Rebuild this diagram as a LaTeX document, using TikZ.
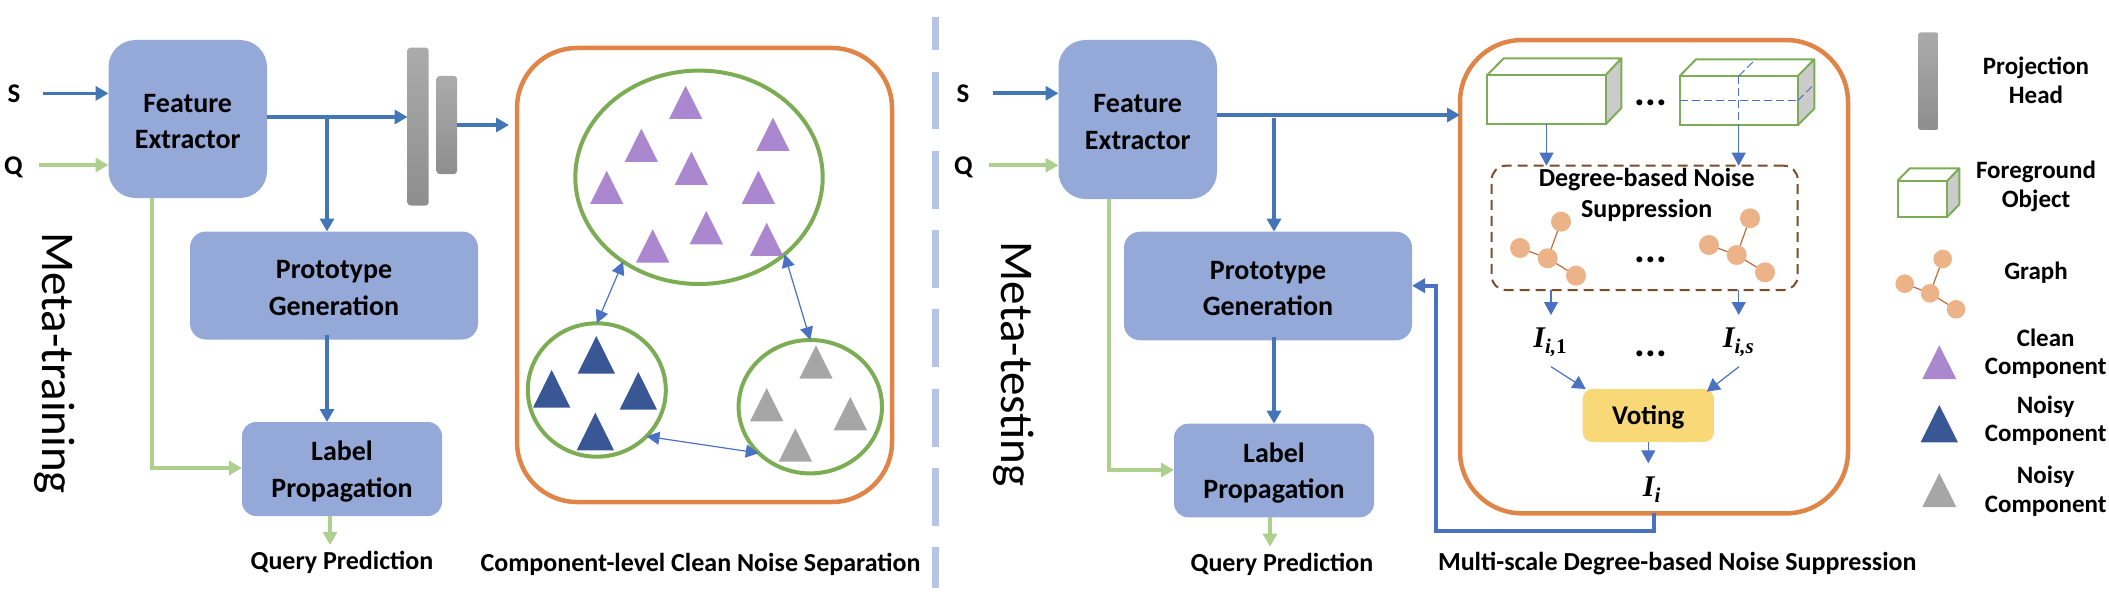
\documentclass[tikz,border=0pt]{standalone}
\usepackage{fontspec}
\setmainfont{Carlito}
\newfontfamily\serifbi{Liberation Serif}
\usetikzlibrary{arrows.meta,shapes.geometric}
\definecolor{blk}{HTML}{95A9D8}
\definecolor{orng}{HTML}{E08547}
\definecolor{grn}{HTML}{7CAD55}
\definecolor{lgrn}{HTML}{AED08E}
\definecolor{bluea}{HTML}{4276B6}
\definecolor{blueb}{HTML}{4B72C2}
\definecolor{purp}{HTML}{AA87CE}
\definecolor{navy}{HTML}{3A5795}
\definecolor{gry}{HTML}{A6A6A6}
\definecolor{peach}{HTML}{EBB387}
\definecolor{rust}{HTML}{C0693A}
\definecolor{brwn}{HTML}{7F4A28}
\definecolor{vote}{HTML}{F8D877}
\definecolor{divid}{HTML}{B5C5E5}
\definecolor{side}{HTML}{CBCBCB}
\definecolor{headt}{HTML}{ABABAB}
\definecolor{headb}{HTML}{8E8E8E}
\newcommand\Tri[5]{\fill[#1] (#2,#3) -- ++(#4,#5) -- ++(-2*#4,0) -- cycle;}
\newcommand\IIdx[1]{{\serifbi\bfseries\itshape\fontsize{30}{30}\selectfont I\raisebox{-6pt}{\fontsize{21}{21}\selectfont #1}}}
\tikzset{
  x=1pt,y=-1pt,
  every node/.style={inner sep=0pt,outer sep=0pt},
  blockbox/.style={fill=blk},
  blocktext/.style={align=center,font=\fontsize{28}{36.5}\selectfont\bfseries},
  framebox/.style={draw=orng,line width=4.5pt,rounded corners=60pt},
  blob/.style={ellipse,draw=grn,line width=4pt},
  flowblue/.style={draw=bluea,line width=3.6pt,-{Triangle[length=13pt,width=14pt]}},
  flowgreen/.style={draw=lgrn,line width=4pt,-{Triangle[length=13pt,width=14pt]}},
  flowret/.style={draw=blueb,line width=3.6pt,-{Triangle[length=13pt,width=14pt]}},
  thinflow/.style={draw=blueb,line width=1.2pt,-{Triangle[length=13pt,width=14pt]}},
  twoway/.style={draw=blueb,line width=1.2pt,{Triangle[length=13pt,width=13pt]}-{Triangle[length=13pt,width=13pt]}},
  head/.style={rounded corners=3pt,top color=headt,bottom color=headb},
  txt/.style={font=\fontsize{26}{31}\selectfont\bfseries,align=center},
  ltxt/.style={font=\fontsize{25}{28.7}\selectfont\bfseries,align=center},
  sqtxt/.style={font=\fontsize{27}{27}\selectfont\bfseries},
  metatxt/.style={font=\fontsize{47}{47}\selectfont,rotate=-90,anchor=base west},
  dotstxt/.style={font=\fontsize{40}{40}\selectfont\bfseries,anchor=base},
  gnode/.style={circle,fill=peach,minimum size=20pt},
  gedge/.style={draw=rust,line width=1.2pt},
  cubeline/.style={draw=grn,line width=2pt,line join=round},
  cubedash/.style={draw=blueb,line width=1pt,dash pattern=on 8pt off 4pt},
}
\begin{document}
\begin{tikzpicture}
\useasboundingbox (0,0) rectangle (2109,615);
% ---- divider
\draw[divid,line width=7.5pt] (935.6,17) -- (935.6,50);
\foreach \yy in {72,151,230,309,389,468}{\draw[divid,line width=7.5pt] (935.6,\yy) -- (935.6,\yy+57.5);}
\draw[divid,line width=7.5pt] (935.6,547) -- (935.6,588);
% ---- left part
\node[blockbox,minimum width=158.5pt,minimum height=158pt,rounded corners=27pt] (fe) at (187.75,119) {};
\node[blocktext] (fet) at ([yshift=-2.5pt]fe.center) {Feature\\Extractor};
\node[blockbox,minimum width=288pt,minimum height=108pt,rounded corners=16pt] (pg) at (334,285.5) {};
\node[blocktext] (pgt) at ([yshift=-2.5pt]pg.center) {Prototype\\Generation};
\node[blockbox,minimum width=200pt,minimum height=94pt,rounded corners=14pt] (lp) at (342,469) {};
\node[blocktext] (lpt) at ([yshift=-2.5pt]lp.center) {Label\\Propagation};
\node[sqtxt] (sl) at (14,93.3) {S};
\node[sqtxt] (ql) at (13.5,167) {Q};
\path[head] (407.6,47.6) rectangle (428.6,205.5);
\path[head] (436.6,76) rectangle (457,174);
\coordinate (ph) at (407.6,117);
\coordinate (ph2) at (457,125);
\node[framebox,minimum width=375pt,minimum height=454pt] (ol) at (704.5,275) {};
\coordinate (sa) at (43,93.4);
\coordinate (qa) at (39,165);
\draw[flowblue] (sa) -- (sa -| fe.west);
\draw[flowgreen] (qa) -- (qa -| fe.west);
\draw[flowblue] (ph -| fe.east) -- (ph);
\coordinate (br) at (327,117);
\draw[flowblue] (br) -- (br |- pg.north);
\draw[flowblue] (ph2) -- (509,125);
\coordinate (pgb) at (327,335);
\draw[flowblue] (pgb) -- (pgb |- lp.north);
\coordinate (ga) at (152,468);
\draw[flowgreen] (ga |- fe.south) -- (ga) -- (ga -| lp.west);
\coordinate (qp) at (330,545);
\draw[flowgreen] (qp |- lp.south) -- (qp);
\node[txt] (qpt) at (342,562) {Query Prediction};
\node[txt] (clt) at (700.5,564) {Component-level Clean Noise Separation};
\node[metatxt] (mt) at (42.4,232) {Meta-training};
% blobs
\node[blob,minimum width=247.4pt,minimum height=213.4pt] (bc) at (699,177.3) {};
\node[blob,minimum width=138pt,minimum height=133.4pt] (bn) at (596.8,390) {};
\node[blob,minimum width=143.4pt,minimum height=133.4pt] (bg) at (810.3,406.7) {};
\draw[twoway] (bc.228.6) -- (bn.north);
\draw[twoway] (bc.318.3) -- (bg.north);
\draw[twoway] (bn.317.3) -- (bg.222.4);
\begin{scope}[shift={(500,30)},x=0.33333pt,y=-0.33333pt]
\Tri{purp}{557}{167}{50}{100}
\Tri{purp}{424}{296}{50}{100}
\Tri{purp}{819}{263}{50}{100}
\Tri{purp}{574}{365}{50}{100}
\Tri{purp}{320}{422}{50}{100}
\Tri{purp}{775}{422}{50}{100}
\Tri{purp}{619}{543}{50}{100}
\Tri{purp}{458}{598}{50}{100}
\Tri{purp}{800}{578}{50}{100}
\end{scope}
\begin{scope}[shift={(500,300)},x=0.33333pt,y=-0.33333pt]
\Tri{navy}{289}{108}{56}{113}
\Tri{navy}{155}{210}{56}{113}
\Tri{navy}{415}{216}{56}{113}
\Tri{navy}{286}{338}{56}{113}
\Tri{gry}{948}{136}{50}{100}
\Tri{gry}{800}{264}{50}{100}
\Tri{gry}{1051}{291}{50}{100}
\Tri{gry}{886}{385}{50}{100}
\end{scope}
% ---- right part
\node[blockbox,minimum width=158.5pt,minimum height=159pt,rounded corners=27pt] (fr) at (1137.75,119.5) {};
\node[blocktext] (frt) at ([yshift=-2.5pt]fr.center) {Feature\\Extractor};
\node[blockbox,minimum width=288pt,minimum height=108.6pt,rounded corners=16pt] (pr) at (1268,286) {};
\node[blocktext] (prt) at ([yshift=-2.5pt]pr.center) {Prototype\\Generation};
\node[blockbox,minimum width=200pt,minimum height=93.6pt,rounded corners=14pt] (lr) at (1274,470.5) {};
\node[blocktext] (lrt) at ([yshift=-2.5pt]lr.center) {Label\\Propagation};
\node[sqtxt] (sr) at (963,93.3) {S};
\node[sqtxt] (qr) at (963.3,167) {Q};
\node[framebox,rounded corners=62pt,minimum width=388pt,minimum height=473.3pt] (or) at (1654,276.7) {};
\coordinate (sb) at (993,93.3);
\coordinate (qb) at (989,165.3);
\draw[flowblue] (sb) -- (sb -| fr.west);
\draw[flowgreen] (qb) -- (qb -| fr.west);
\coordinate (fo) at (1217,115);
\draw[flowblue] (fo) -- (fo -| or.west);
\coordinate (bq) at (1274,118);
\draw[flowblue] (bq) -- (bq |- pr.north);
\coordinate (prb) at (1274,336.7);
\draw[flowblue] (prb) -- (prb |- lr.north);
\coordinate (gb) at (1109,470);
\draw[flowgreen] (gb |- fr.south) -- (gb) -- (gb -| lr.west);
\coordinate (qq) at (1270,546.7);
\draw[flowgreen] (qq |- lr.south) -- (qq);
\node[txt] (qpr) at (1282,564) {Query Prediction};
\node[txt] (mst) at (1677.3,563.5) {Multi-scale Degree-based Noise Suppression};
\node[metatxt] (mr) at (1001.7,241.7) {Meta-testing};
\coordinate (ra) at (1653.7,531);
\coordinate (rb) at (1435.7,285.7);
\draw[flowret] (ra |- or.south) -- (ra) -| (rb) -- (rb -| pr.east);
% cubes
\fill[side] (1605.7,75) -- (1621.4,58.3) -- (1621.4,108) -- (1605.7,124.3) -- cycle;
\draw[cubeline] (1487.3,75) -- (1503.7,58.3) -- (1621.4,58.3) -- (1605.7,75);
\draw[cubeline] (1621.4,58.3) -- (1621.4,108) -- (1605.7,124.3);
\node[draw=grn,line width=2pt,minimum width=118.4pt,minimum height=49.3pt] (ca) at (1546.5,99.65) {};
\fill[side] (1797.7,76) -- (1814.3,59.3) -- (1814.3,108.6) -- (1797.7,125.3) -- cycle;
\draw[cubeline] (1679.7,76) -- (1696,59.3) -- (1814.3,59.3) -- (1797.7,76);
\draw[cubeline] (1814.3,59.3) -- (1814.3,108.6) -- (1797.7,125.3);
\node[draw=grn,line width=2pt,minimum width=118pt,minimum height=49.3pt] (cb) at (1738.7,100.65) {};
\draw[cubedash] (cb.west) -- (cb.east);
\draw[cubedash] (cb.east) -- (1813.5,85);
\draw[cubedash] (cb.north) -- (1755,60);
\draw[cubedash] (cb.north) -- (cb.south);
\node[draw=brwn,line width=2pt,dash pattern=on 10pt off 6pt,rounded corners=14pt,minimum width=306pt,minimum height=124.3pt] (db) at (1644.7,227.85) {};
\draw[thinflow] (ca.south) -- (ca.south |- db.north);
\draw[thinflow] (cb.south) -- (cb.south |- db.north);
\node[txt] (dbt) at (1646.7,195) {Degree-based Noise\\Suppression};
\node[dotstxt] (d1) at (1651,106) {...};
\node[dotstxt] (d2) at (1651,262) {...};
\node[dotstxt] (d3) at (1651,356) {...};
% graphs
\foreach \nm/\xa/\ya/\xb/\yb/\xc/\yc/\xd/\yd/\rr in {g1/1561/221.7/1520/248/1547.7/258.3/1576/275.7/20, g2/1750/218.3/1709/245/1736.7/255/1765/272.3/20, g3/1942.7/259/1904.7/283.7/1930/293.3/1956/309.3/18.6}{
  \node[gnode,minimum size=\rr pt] (\nm a) at (\xa,\ya) {};
  \node[gnode,minimum size=\rr pt] (\nm b) at (\xb,\yb) {};
  \node[gnode,minimum size=\rr pt] (\nm c) at (\xc,\yc) {};
  \node[gnode,minimum size=\rr pt] (\nm d) at (\xd,\yd) {};
  \draw[gedge] (\nm a) -- (\nm c);
  \draw[gedge] (\nm b) -- (\nm c);
  \draw[gedge] (\nm c) -- (\nm d);
}
% indices and voting
\node (i1) at (1550,342.7) {\IIdx{i,{\upshape 1}}};
\node (i2) at (1738.3,342.7) {\IIdx{i,s}};
\node (i3) at (1651.7,490) {\IIdx{i}};
\node[blockbox,fill=vote,rounded corners=10pt,minimum width=131.3pt,minimum height=53pt] (vt) at (1648.3,415.5) {};
\node[font=\fontsize{27}{31}\selectfont\bfseries] (vtt) at (1648.3,417) {Voting};
\coordinate (a1) at (1551,315);
\coordinate (a2) at (1738.7,315);
\draw[thinflow] (a1 |- db.south) -- (a1);
\draw[thinflow] (a2 |- db.south) -- (a2);
\coordinate (b1) at (1551,366.7);
\coordinate (b2) at (1739,366.7);
\coordinate (c1) at (1585.7,389);
\coordinate (c2) at (1706.7,391.7);
\draw[thinflow] (b1) -- (c1);
\draw[thinflow] (b2) -- (c2);
\coordinate (vo) at (1648.3,463.3);
\draw[thinflow] (vo |- vt.south) -- (vo);
% legend
\path[head] (1918,32.3) rectangle (1938.7,130);
\node[ltxt] (l1) at (2036,80.2) {Projection\\Head};
\fill[side] (1947.3,180.7) -- (1959.3,168.4) -- (1959.3,204.4) -- (1947.3,216.7) -- cycle;
\draw[cubeline] (1897.7,180.7) -- (1909.7,168.4) -- (1959.3,168.4) -- (1947.3,180.7);
\draw[cubeline] (1959.3,168.4) -- (1959.3,204.4) -- (1947.3,216.7);
\node[draw=grn,line width=2pt,minimum width=49.6pt,minimum height=36pt] (lc) at (1922.5,198.7) {};
\node[ltxt] (l2) at (2036,186.6) {Foreground\\Object};
\node[ltxt] (l3) at (2036,273) {Graph};
\Tri{purp}{1939.3}{345.3}{17}{33.7}
\node[ltxt] (l4) at (2045.7,353.7) {Clean\\Component};
\Tri{navy}{1939.3}{405}{18.7}{37.3}
\node[ltxt] (l5) at (2045.7,420.6) {Noisy\\Component};
\Tri{gry}{1939.3}{473.3}{17}{33.7}
\node[ltxt] (l6) at (2045.7,491) {Noisy\\Component};
\end{tikzpicture}
\end{document}
